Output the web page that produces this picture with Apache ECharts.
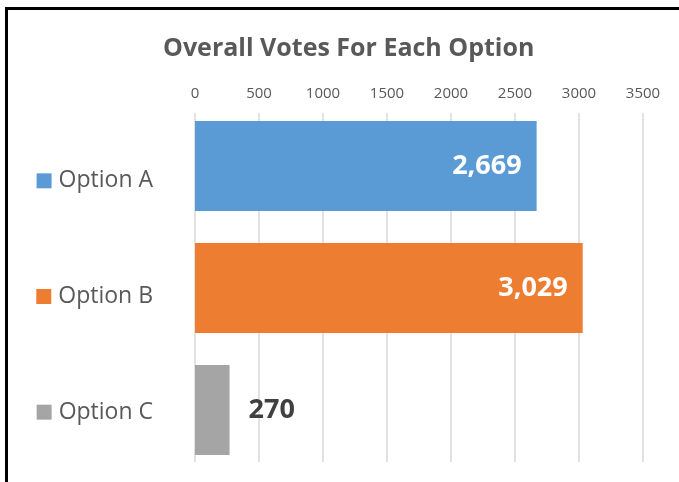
<!DOCTYPE html>
<html>
<head>
<meta charset="utf-8">
<script src="https://cdn.jsdelivr.net/npm/echarts@6/dist/echarts.min.js"></script>
<style>
  html, body { margin: 0; padding: 0; background: #fff; }
  #chart { width: 679px; height: 482px; }
</style>
</head>
<body>
<div id="chart"></div>
<script>
const categories = ['Option A', 'Option B', 'Option C']
const votes = [2669, 3029, 270]
const barColors = ['#5B9BD5', '#ED7D31', '#A5A5A5']
const ticks = [0, 500, 1000, 1500, 2000, 2500, 3000, 3500]

const chart = echarts.init(document.getElementById('chart'))

// one rich style per option so the little square gets the bar colour
const rich = { t: { fontSize: 23, color: '#595959', fontFamily: 'Open Sans', padding: [0, 0, 0, 7] } }
barColors.forEach((c, i) => {
  rich['m' + i] = { width: 15, height: 15, backgroundColor: c }
})

const labelInside = { show: true, position: 'insideRight', distance: 15, color: '#fff' }
const labelOutside = { show: true, position: 'right', distance: 19, color: '#404040' }

chart.setOption({
  animation: false,
  textStyle: { fontFamily: 'Open Sans' },
  title: {
    text: 'Overall Votes For Each Option',
    left: 158,
    top: 31,
    textStyle: { fontSize: 25, fontWeight: 'bold', color: '#595959', fontFamily: 'Open Sans' }
  },
  graphic: [
    { type: 'line', shape: { x1: 5, y1: 8.5, x2: 679, y2: 8.5 }, style: { stroke: '#000', lineWidth: 3 } },
    { type: 'line', shape: { x1: 6.5, y1: 7, x2: 6.5, y2: 482 }, style: { stroke: '#000', lineWidth: 3 } }
  ],
  grid: [
    { left: 195, right: 36, top: 105, bottom: 11 }, // bars
    { left: 195, right: 36, top: 113, bottom: 20 }, // gridlines + top ticks
    { left: 195, right: 36, top: 123, bottom: 12 }  // category labels
  ],
  xAxis: [
    {
      type: 'value', gridIndex: 0, min: 0, max: 3500, interval: 500,
      axisLine: { show: false }, axisTick: { show: false },
      axisLabel: { show: false }, splitLine: { show: false }
    },
    {
      type: 'value', gridIndex: 1, position: 'top', min: ticks[0], max: ticks[ticks.length - 1], interval: 500,
      axisLine: { show: false }, axisTick: { show: false },
      axisLabel: { color: '#595959', fontSize: 15, margin: 12, formatter: v => String(v) },
      splitLine: { lineStyle: { color: '#D9D9D9', width: 1.5 } }
    },
    {
      type: 'value', gridIndex: 2, min: 0, max: 3500, show: false
    }
  ],
  yAxis: [
    {
      type: 'category', gridIndex: 0, data: categories, inverse: true, show: false
    },
    {
      type: 'category', gridIndex: 1, data: categories, inverse: true, show: false
    },
    {
      type: 'category', gridIndex: 2, data: categories, inverse: true,
      axisLine: { show: false }, axisTick: { show: false }, splitLine: { show: false },
      axisLabel: {
        margin: 42,
        formatter: (v, i) => '{m' + i + '|}{t|' + v + '}',
        rich
      }
    }
  ],
  series: [{
    type: 'bar',
    xAxisIndex: 0,
    yAxisIndex: 0,
    barWidth: 90,
    data: votes.map((v, i) => ({
      value: v,
      itemStyle: { color: barColors[i] },
      label: v > 1000 ? labelInside : labelOutside
    })),
    label: {
      fontSize: 27,
      fontWeight: 'bold',
      fontFamily: 'Open Sans',
      formatter: p => p.value.toLocaleString('en-US')
    }
  }]
})
</script>
</body>
</html>
